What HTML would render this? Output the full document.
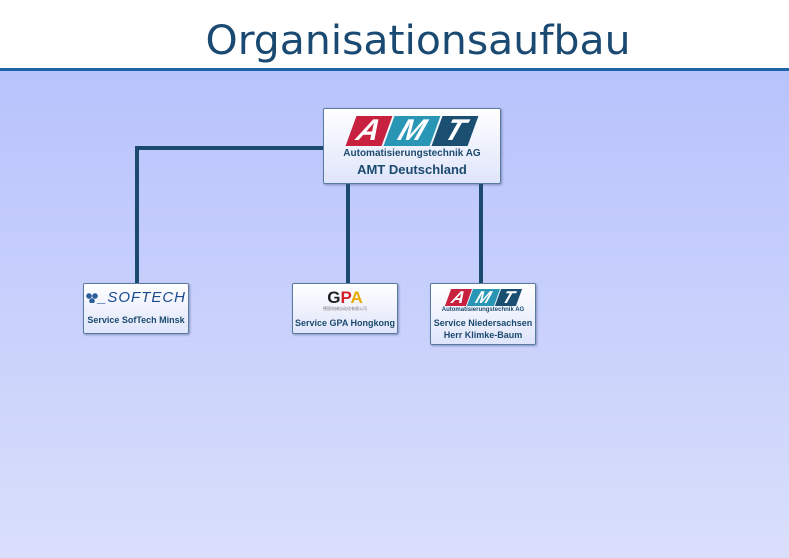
<!DOCTYPE html>
<html><head><meta charset="utf-8"><style>
html,body{margin:0;padding:0}
body{width:789px;height:558px;position:relative;overflow:hidden;font-family:"Liberation Sans",sans-serif;background:#fff}
.bg{position:absolute;left:0;top:71px;width:789px;height:487px;background:linear-gradient(#b8c3fc,#d9dffb)}
.rule{position:absolute;left:0;top:68px;width:789px;height:3px;background:#1f64a8}
.ln{position:absolute;background:#1b4a6e}
.box{position:absolute;box-sizing:border-box;border:1px solid #5b7aa0;border-radius:2px;background:linear-gradient(#ffffff,#dfe5fb);box-shadow:1px 1px 2px rgba(60,80,130,.5);text-align:center;color:#1b4a6e;font-weight:bold;white-space:nowrap;font-family:"Liberation Sans",sans-serif}
.amt{display:flex;justify-content:center}
.amt span{display:inline-block;transform:skewX(-20deg);color:#fff;font-style:italic;font-weight:bold;text-align:center}
</style></head><body>
<svg style="position:absolute;left:0;top:0" width="789" height="68"><text x="418" y="54" text-anchor="middle" font-family="DejaVu Sans" font-size="40" fill="#1a4a72" textLength="425" lengthAdjust="spacingAndGlyphs">Organisationsaufbau</text></svg>
<div class="rule"></div>
<div class="bg"></div>
<div class="ln" style="left:135px;top:146px;width:190px;height:4px"></div>
<div class="ln" style="left:135px;top:146px;width:4px;height:138px"></div>
<div class="ln" style="left:346px;top:183px;width:4px;height:101px"></div>
<div class="ln" style="left:479px;top:183px;width:4px;height:101px"></div>

<div class="box" style="left:323px;top:108px;width:178px;height:76px">
 <div class="amt" style="margin-top:7px;gap:2px">
  <span style="background:#c8203f;width:36px;height:30px;font-size:30px;line-height:30px">A</span>
  <span style="background:#2a96b6;width:46px;height:30px;font-size:30px;line-height:30px">M</span>
  <span style="background:#1b4f72;width:36px;height:30px;font-size:30px;line-height:30px">T</span>
 </div>
 <div style="font-size:10px;margin-top:2px;line-height:11px">Automatisierungstechnik AG</div>
 <div style="font-size:13px;margin-top:3px;line-height:15px">AMT Deutschland</div>
</div>

<div class="box" style="left:83px;top:283px;width:106px;height:51px">
 <div style="margin-top:6px;height:16px;line-height:16px;font-style:italic;font-size:15px;color:#1b4a8e;letter-spacing:1px;font-weight:normal"><span style="display:inline-block;width:12px;height:10px;vertical-align:middle;background:radial-gradient(circle at 3px 3px,#2a5d9a 2.5px,transparent 3px),radial-gradient(circle at 9px 3px,#2a5d9a 2.5px,transparent 3px),radial-gradient(circle at 6px 8px,#2a5d9a 2.5px,transparent 3px)"></span>_SOFTECH</div>
 <div style="font-size:9px;margin-top:9px">Service SofTech Minsk</div>
</div>

<div class="box" style="left:292px;top:283px;width:106px;height:51px">
 <div style="margin-top:5px;font-size:17px;font-weight:bold;line-height:17px"><span style="color:#222">G</span><span style="color:#d4202a">P</span><span style="color:#e8a800">A</span></div>
 <div style="font-size:4px;color:#777;font-weight:normal;font-family:'Noto Sans CJK SC',sans-serif;line-height:6px">德国电梯自动化有限公司</div>
 <div style="font-size:9px;margin-top:6px">Service GPA Hongkong</div>
</div>

<div class="box" style="left:430px;top:283px;width:106px;height:62px">
 <div class="amt" style="margin-top:5px;gap:1px">
  <span style="background:#c8203f;width:21px;height:17px;font-size:17px;line-height:17px">A</span>
  <span style="background:#2a96b6;width:27px;height:17px;font-size:17px;line-height:17px">M</span>
  <span style="background:#1b4f72;width:21px;height:17px;font-size:17px;line-height:17px">T</span>
 </div>
 <div style="font-size:6px;margin-top:1px;line-height:7px">Automatisierungstechnik AG</div>
 <div style="font-size:9px;margin-top:3px;line-height:12px">Service Niedersachsen<br>Herr Klimke-Baum</div>
</div>
</body></html>
